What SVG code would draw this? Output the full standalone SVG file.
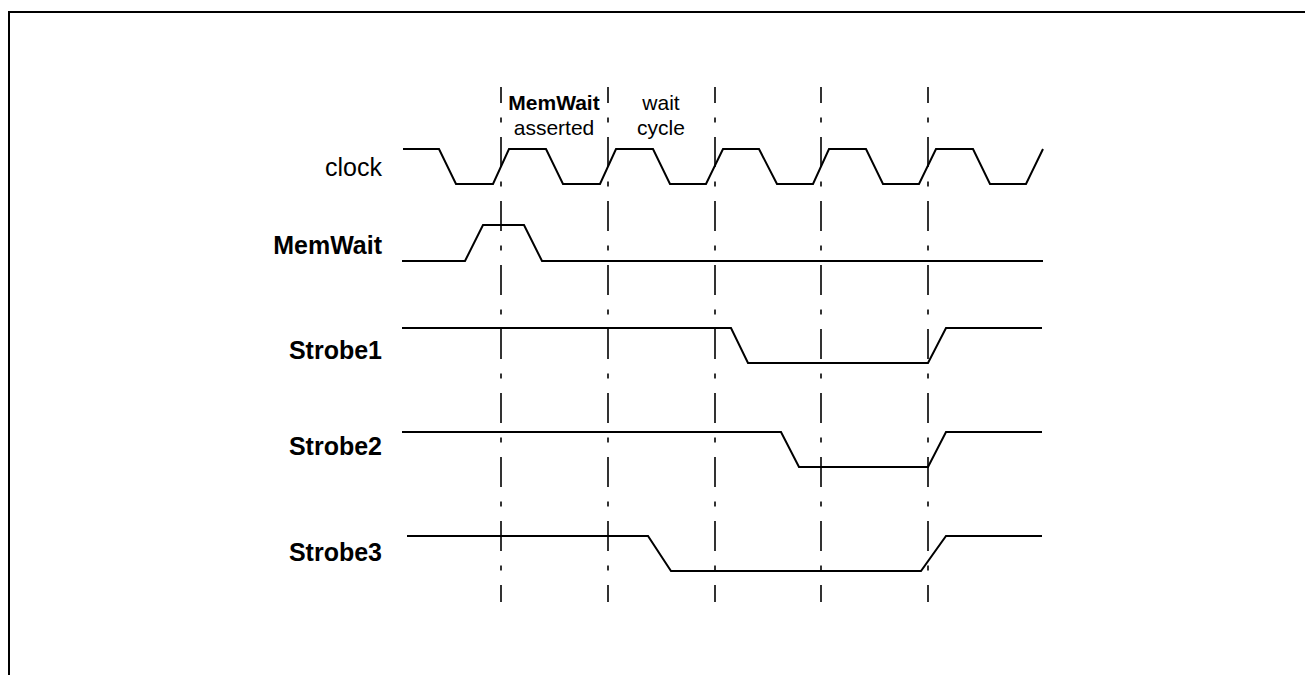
<svg xmlns="http://www.w3.org/2000/svg" width="1305" height="675" viewBox="0 0 1305 675">
<style>
.sig{fill:none;stroke:#000;stroke-width:2;stroke-linejoin:miter}
.grid{stroke:#000;stroke-width:1.6;stroke-dasharray:30 14.5 5 14.5;stroke-dashoffset:14}
.lbl{font-family:"Liberation Sans",Arial,sans-serif;font-size:25px;fill:#000}
.hd{font-size:21px}
.b{font-weight:bold}
</style>
<rect x="0" y="0" width="1305" height="675" fill="#fff"/>
<path d="M9,676 V12 H1306" fill="none" stroke="#000" stroke-width="2"/>
<g id="markers">
<line class="grid" x1="501" y1="87" x2="501" y2="602"/>
<line class="grid" x1="608" y1="87" x2="608" y2="602"/>
<line class="grid" x1="715" y1="87" x2="715" y2="602"/>
<line class="grid" x1="821" y1="87" x2="821" y2="602"/>
<line class="grid" x1="928" y1="87" x2="928" y2="602"/>
</g>
<g id="header">
<text class="lbl hd b" x="554" y="110" text-anchor="middle">MemWait</text>
<text class="lbl hd" x="554" y="135" text-anchor="middle">asserted</text>
<text class="lbl hd" x="661" y="110" text-anchor="middle">wait</text>
<text class="lbl hd" x="661" y="135" text-anchor="middle">cycle</text>
</g>
<g id="clock">
<text class="lbl" x="382" y="176" text-anchor="end">clock</text>
<polyline class="sig" points="403,149 439,149 456,184 493,184 509,149 546,149 563,184 600,184 616,149 653,149 670,184 706,184 723,149 759,149 777,184 813,184 829,149 866,149 883,184 919,184 936,149 973,149 990,184 1026,184 1043,149"/>
</g>
<g id="memwait">
<text class="lbl b" x="382" y="254" text-anchor="end">MemWait</text>
<polyline class="sig" points="402,261 465,261 483,225 524,225 542,261 1043,261"/>
</g>
<g id="strobe1">
<text class="lbl b" x="382" y="359" text-anchor="end">Strobe1</text>
<polyline class="sig" points="402,328 731,328 748,363 928,363 946,328 1042,328"/>
</g>
<g id="strobe2">
<text class="lbl b" x="382" y="455" text-anchor="end">Strobe2</text>
<polyline class="sig" points="402,432 781,432 799,467 928,467 946,432 1042,432"/>
</g>
<g id="strobe3">
<text class="lbl b" x="382" y="561" text-anchor="end">Strobe3</text>
<polyline class="sig" points="407,536 648,536 671,571 921,571 946,536 1042,536"/>
</g>
</svg>
